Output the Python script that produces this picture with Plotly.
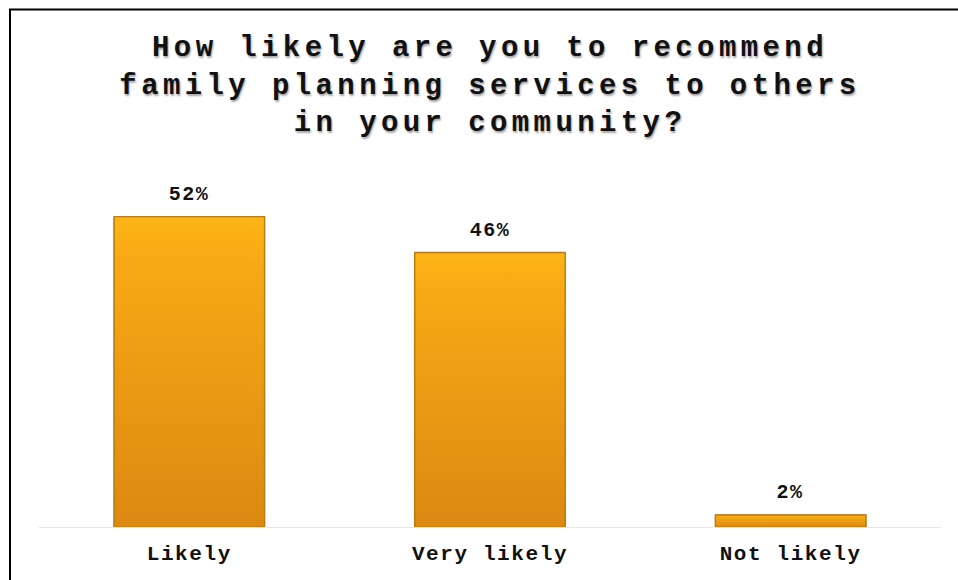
import plotly.graph_objects as go

categories = ["Likely", "Very likely", "Not likely"]
values = [52, 46, 2]
labels = ["52%", "46%", "2%"]

title_lines = [
    "How likely are you to recommend",
    "family planning services to others",
    "in your community?",
]

FONT = "Courier New, Liberation Mono, monospace"
BAR_W = 0.5
pos = list(range(len(categories)))

fig = go.Figure()
fig.add_trace(go.Bar(
    x=pos,
    y=values,
    width=BAR_W,
    marker=dict(color="#F0A014", line=dict(color="#B97A10", width=1.5)),
    hovertext=categories, hoverinfo="text+y",
))

# vertical gradient overlay for each bar (drawn from the same data)
for p, v in zip(pos, values):
    h = BAR_W / 2
    fig.add_trace(go.Scatter(
        x=[p - h, p + h, p + h, p - h, p - h],
        y=[0, 0, v, v, 0],
        mode="lines", fill="toself",
        line=dict(color="#B97A10", width=1.2),
        fillgradient=dict(type="vertical", start=0, stop=v,
                          colorscale=[[0, "#DC8912"], [0.85, "#F7A915"], [1, "#FDB516"]]),
        hoverinfo="skip", showlegend=False,
    ))

for p, v, t in zip(pos, values, labels):
    fig.add_annotation(
        x=p, y=v, text=t, showarrow=False, yanchor="bottom", yshift=9,
        font=dict(family=FONT, size=20, color="#111111", weight="bold"),
    )

fig.update_layout(
    width=958, height=580,
    margin=dict(l=39, r=17, t=169, b=53),
    paper_bgcolor="white", plot_bgcolor="white",
    showlegend=False,
    title=dict(
        text="<br>".join(title_lines),
        x=0.5, xref="paper", xanchor="center",
        y=1 - 56 / 580, yref="container", yanchor="top",
        font=dict(family=FONT, size=29, color="#111111", weight="bold",
                  shadow="1px 2px 2px rgba(0,0,0,0.35)"),
    ),
    xaxis=dict(
        type="linear", range=[-0.5, len(categories) - 0.5],
        tickmode="array", tickvals=pos, ticktext=categories,
        showline=True, linecolor="#e6e6e6", linewidth=1,
        showgrid=False, zeroline=False, ticks="",
        ticklabelstandoff=7,
        tickfont=dict(family=FONT, size=21, color="#111111", weight="bold"),
    ),
    yaxis=dict(visible=False, range=[0, 60]),
    shapes=[dict(
        type="rect", xref="paper", yref="paper",
        x0=(10 - 39) / 902, x1=(975 - 39) / 902,
        y0=(527 - 600) / 358, y1=(527 - 9.5) / 358,
        line=dict(color="black", width=2), fillcolor="rgba(0,0,0,0)",
        layer="below",
    )],
)

post = """
document.body.style.margin = '0';
var gd = document.getElementById('{plot_id}');
function sp(){
  gd.querySelectorAll('.gtitle').forEach(function(e){e.style.letterSpacing='4.4px';});
  gd.querySelectorAll('.xtick text').forEach(function(e){e.style.letterSpacing='1.6px';});
  gd.querySelectorAll('.annotation-text').forEach(function(e){e.style.letterSpacing='1.5px';});
}
sp();
gd.on('plotly_afterplot', sp);
"""

fig.write_html("out.html", post_script=post, config={"displayModeBar": False})
